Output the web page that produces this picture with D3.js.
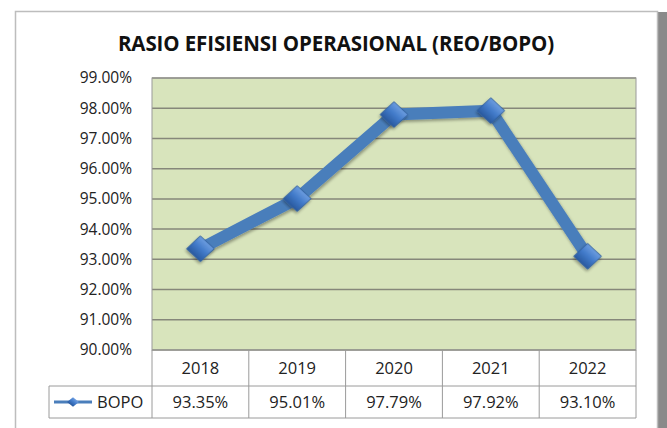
<!DOCTYPE html>
<html>
<head>
<meta charset="utf-8">
<script src="https://cdn.jsdelivr.net/npm/d3@7"></script>
<style>
  body { margin: 0; background: #fff; }
  svg { display: block; }
</style>
</head>
<body>
<div id="entry"></div>
<script>
const years = ['2018', '2019', '2020', '2021', '2022'];
const bopo = [93.35, 95.01, 97.79, 97.92, 93.10];
const yTicks = [90, 91, 92, 93, 94, 95, 96, 97, 98, 99];
const seriesName = 'BOPO';
const title = 'RASIO EFISIENSI OPERASIONAL (REO/BOPO)';

const W = 667, H = 428;
const plot = { left: 152, right: 636, top: 78, bottom: 350 };
const rowMid = 386, rowBottom = 418, legendLeft = 49;
const font = 'Open Sans, sans-serif';

const svg = d3.select('#entry').append('svg')
    .attr('width', W)
    .attr('height', H);

const defs = svg.append('defs');
const grad = defs.append('linearGradient')
    .attr('id', 'mk')
    .attr('x1', '0%').attr('y1', '0%')
    .attr('x2', '0%').attr('y2', '100%');
grad.append('stop').attr('offset', '0%').attr('stop-color', '#6d9de0');
grad.append('stop').attr('offset', '50%').attr('stop-color', '#4079c8');
grad.append('stop').attr('offset', '100%').attr('stop-color', '#2a5a9f');

const shadow = defs.append('filter').attr('id', 'shadow')
    .attr('x', '-20%').attr('y', '-20%').attr('width', '140%').attr('height', '140%');
shadow.append('feDropShadow')
    .attr('dx', 1).attr('dy', 2).attr('stdDeviation', 1.5)
    .attr('flood-color', '#000').attr('flood-opacity', 0.35);

// chart frame, shadow band on the right
svg.append('rect')
    .attr('x', 658).attr('y', 12).attr('width', 9).attr('height', H - 12)
    .attr('fill', '#8a8a8a');
svg.append('rect')
    .attr('x', 15.5).attr('y', 11.5).attr('width', 642).attr('height', 430)
    .attr('fill', '#fff')
    .attr('stroke', '#bdbdbd')
    .attr('stroke-width', 1.5);

svg.append('text')
    .attr('x', 336).attr('y', 51)
    .attr('text-anchor', 'middle')
    .attr('font-family', font)
    .attr('font-weight', 'bold')
    .attr('font-size', '20.5px')
    .attr('letter-spacing', '-0.1px')
    .attr('fill', '#111')
    .text(title);

const x = d3.scaleBand()
    .domain(years)
    .range([plot.left, plot.right]);

const y = d3.scaleLinear()
    .domain([90, 99])
    .range([plot.bottom, plot.top]);

// plot background
svg.append('rect')
    .attr('x', plot.left).attr('y', plot.top)
    .attr('width', plot.right - plot.left)
    .attr('height', plot.bottom - plot.top)
    .attr('fill', '#d8e4bc');

// gridlines
svg.append('g')
    .selectAll('line')
    .data(yTicks)
    .enter()
    .append('line')
    .attr('x1', plot.left).attr('x2', plot.right)
    .attr('y1', d => y(d)).attr('y2', d => y(d))
    .attr('stroke', '#86877a')
    .attr('stroke-width', 1.5);

// plot border
svg.append('rect')
    .attr('x', plot.left).attr('y', plot.top)
    .attr('width', plot.right - plot.left)
    .attr('height', plot.bottom - plot.top)
    .attr('fill', 'none')
    .attr('stroke', '#9a9a9a')
    .attr('stroke-width', 1);

// y axis labels
const yAxis = d3.axisLeft(y)
    .tickValues(yTicks)
    .tickSize(0)
    .tickPadding(20)
    .tickFormat(d => d.toFixed(2) + '%');
const yg = svg.append('g')
    .attr('transform', `translate(${plot.left},0)`)
    .call(yAxis);
yg.select('.domain').remove();
yg.selectAll('text')
    .attr('font-family', font)
    .attr('font-size', '15.5px')
    .attr('fill', '#222');

// data table
const tbl = svg.append('g').attr('stroke', '#9a9a9a').attr('stroke-width', 1).attr('fill', 'none');
tbl.selectAll('line.col')
    .data(years.concat(['end']))
    .enter()
    .append('line')
    .attr('x1', d => d === 'end' ? plot.right : x(d))
    .attr('x2', d => d === 'end' ? plot.right : x(d))
    .attr('y1', plot.bottom).attr('y2', rowBottom);
tbl.append('line')
    .attr('x1', legendLeft).attr('x2', plot.right)
    .attr('y1', rowMid).attr('y2', rowMid);
tbl.append('line')
    .attr('x1', legendLeft).attr('x2', plot.right)
    .attr('y1', rowBottom).attr('y2', rowBottom);
tbl.append('line')
    .attr('x1', legendLeft).attr('x2', legendLeft)
    .attr('y1', rowMid).attr('y2', rowBottom);

const cellFont = g => g
    .attr('font-family', font)
    .attr('font-size', '16.5px')
    .attr('fill', '#222')
    .attr('text-anchor', 'middle');

svg.append('g').call(cellFont)
    .selectAll('text')
    .data(years)
    .enter()
    .append('text')
    .attr('x', d => x(d) + x.bandwidth() / 2)
    .attr('y', (plot.bottom + rowMid) / 2 + 6)
    .text(d => d);

svg.append('g').call(cellFont)
    .selectAll('text')
    .data(bopo)
    .enter()
    .append('text')
    .attr('x', (d, i) => x(years[i]) + x.bandwidth() / 2)
    .attr('y', (rowMid + rowBottom) / 2 + 6)
    .text(d => d.toFixed(2) + '%');

// legend key
const legY = (rowMid + rowBottom) / 2;
const diamond = d3.symbol(d3.symbolSquare);
svg.append('line')
    .attr('x1', 54).attr('x2', 92)
    .attr('y1', legY).attr('y2', legY)
    .attr('stroke', '#4a7ebb')
    .attr('stroke-width', 3);
svg.append('path')
    .attr('d', diamond.size(70)())
    .attr('transform', `translate(73,${legY}) scale(1,0.8) rotate(45)`)
    .attr('fill', 'url(#mk)');
svg.append('text')
    .attr('x', 97).attr('y', legY + 6)
    .attr('font-family', font)
    .attr('font-size', '16.5px')
    .attr('fill', '#222')
    .text(seriesName);

// series line
const line = d3.line()
    .x((d, i) => x(years[i]) + x.bandwidth() / 2)
    .y(d => y(d));

svg.append('path')
    .datum(bopo)
    .attr('d', line)
    .attr('fill', 'none')
    .attr('stroke', '#4a7ebb')
    .attr('stroke-width', 12)
    .attr('stroke-linejoin', 'round')
    .attr('filter', 'url(#shadow)');

// markers
svg.append('g')
    .selectAll('path')
    .data(bopo)
    .enter()
    .append('path')
    .attr('d', diamond.size(380)())
    .attr('transform', (d, i) => `translate(${x(years[i]) + x.bandwidth() / 2},${y(d)}) scale(1,0.93) rotate(45)`)
    .attr('fill', 'url(#mk)')
    .attr('stroke', '#2f5f9e')
    .attr('stroke-width', 0.8)
    .attr('filter', 'url(#shadow)');
</script>
</body>
</html>
